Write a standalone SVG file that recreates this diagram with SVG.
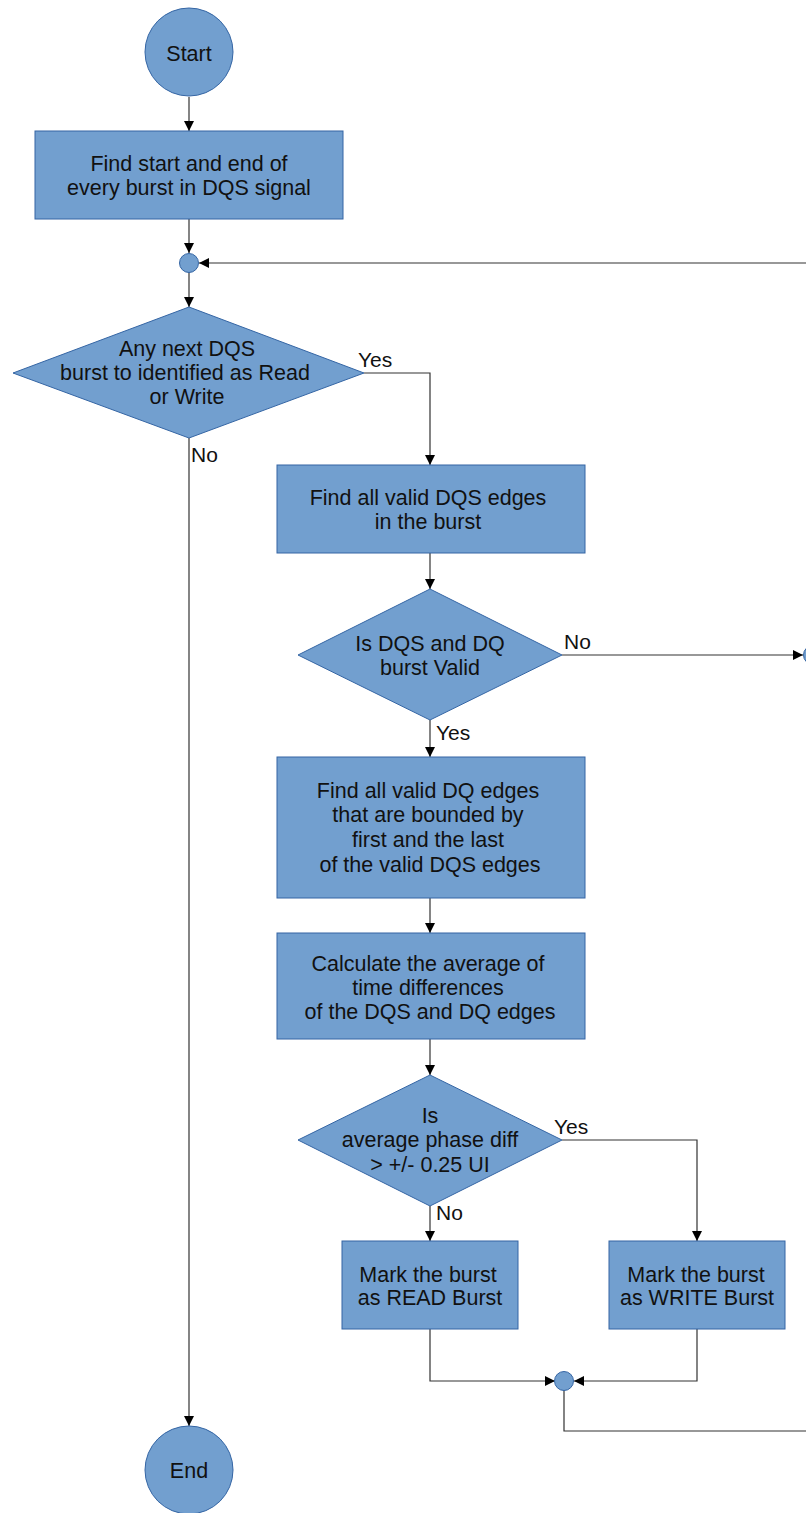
<svg xmlns="http://www.w3.org/2000/svg" width="806" height="1513" viewBox="0 0 806 1513">
<style>
.n{fill:#729fcf;stroke:#3465a4;stroke-width:1}
.t{font-family:"Liberation Sans",Arial,sans-serif;font-size:21.5px;fill:#111;text-anchor:middle}
.l{font-family:"Liberation Sans",Arial,sans-serif;font-size:21px;fill:#111}
.c{fill:none;stroke:#333;stroke-width:1.2}
</style>
<defs>
<marker id="a" viewBox="0 0 10 10" refX="10" refY="5" markerWidth="10" markerHeight="10" markerUnits="userSpaceOnUse" orient="auto">
<path d="M0,0 L10,5 L0,10 z" fill="#000"/>
</marker>
</defs>
<rect width="806" height="1513" fill="#fff"/>
<g id="connectors">
<path class="c" d="M189,97 V131" marker-end="url(#a)"/>
<path class="c" d="M189,219 V253" marker-end="url(#a)"/>
<path class="c" d="M806,263 H199" marker-end="url(#a)"/>
<path class="c" d="M189,272 V307" marker-end="url(#a)"/>
<path class="c" d="M364,373 H430 V465" marker-end="url(#a)"/>
<path class="c" d="M189,438 V1426" marker-end="url(#a)"/>
<path class="c" d="M430,553 V589" marker-end="url(#a)"/>
<path class="c" d="M562,655 H803" marker-end="url(#a)"/>
<path class="c" d="M430,720 V757" marker-end="url(#a)"/>
<path class="c" d="M430,898 V933" marker-end="url(#a)"/>
<path class="c" d="M430,1039 V1075" marker-end="url(#a)"/>
<path class="c" d="M562,1140 H697 V1241" marker-end="url(#a)"/>
<path class="c" d="M430,1206 V1241" marker-end="url(#a)"/>
<path class="c" d="M430,1329 V1381 H555" marker-end="url(#a)"/>
<path class="c" d="M697,1329 V1381 H574" marker-end="url(#a)"/>
<path class="c" d="M564,1390 V1431 H806"/>
<text class="l" x="358" y="367">Yes</text>
<text class="l" x="191" y="462">No</text>
<text class="l" x="564" y="649">No</text>
<text class="l" x="436" y="740">Yes</text>
<text class="l" x="554" y="1134">Yes</text>
<text class="l" x="436" y="1220">No</text>
</g>
<g id="start"><circle class="n" cx="189" cy="52" r="44"/><text class="t" x="189" y="61">Start</text></g>
<g id="find-bursts"><rect class="n" x="35" y="131" width="308" height="88"/><text class="t" x="189" y="171">Find start and end of</text><text class="t" x="189" y="195">every burst in DQS signal</text></g>
<g id="merge-top"><circle class="n" cx="189" cy="263" r="9.5"/></g>
<g id="any-next"><polygon class="n" points="189,307 364,373 189,438 13,373"/><text class="t" x="187" y="356">Any next DQS</text><text class="t" x="185" y="380">burst to identified as Read</text><text class="t" x="187" y="404">or Write</text></g>
<g id="find-dqs"><rect class="n" x="277" y="465" width="308" height="88"/><text class="t" x="428" y="505">Find all valid DQS edges</text><text class="t" x="428" y="529">in the burst</text></g>
<g id="is-valid"><polygon class="n" points="430,589 562,655 430,720 298,655"/><text class="t" x="430" y="651">Is DQS and DQ</text><text class="t" x="430" y="675">burst Valid</text></g>
<g id="offpage-circle"><circle class="n" cx="813" cy="655" r="9.5"/></g>
<g id="find-dq"><rect class="n" x="277" y="757" width="308" height="141"/><text class="t" x="428" y="798">Find all valid DQ edges</text><text class="t" x="428" y="822">that are bounded by</text><text class="t" x="428" y="847">first and the last</text><text class="t" x="430" y="872">of the valid DQS edges</text></g>
<g id="calc-avg"><rect class="n" x="277" y="933" width="308" height="106"/><text class="t" x="428" y="971">Calculate the average of</text><text class="t" x="428" y="995">time differences</text><text class="t" x="430" y="1019">of the DQS and DQ edges</text></g>
<g id="phase-diff"><polygon class="n" points="430,1075 562,1140 430,1206 298,1140"/><text class="t" x="430" y="1123">Is</text><text class="t" x="430" y="1147">average phase diff</text><text class="t" x="430" y="1172">&gt; +/- 0.25 UI</text></g>
<g id="mark-read"><rect class="n" x="342" y="1241" width="176" height="88"/><text class="t" x="428" y="1282">Mark the burst</text><text class="t" x="430" y="1305">as READ Burst</text></g>
<g id="mark-write"><rect class="n" x="609" y="1241" width="176" height="88"/><text class="t" x="696" y="1282">Mark the burst</text><text class="t" x="697" y="1305">as WRITE Burst</text></g>
<g id="merge-bottom"><circle class="n" cx="564" cy="1381" r="9.5"/></g>
<g id="end"><circle class="n" cx="189" cy="1470" r="44"/><text class="t" x="189" y="1478">End</text></g>
</svg>
